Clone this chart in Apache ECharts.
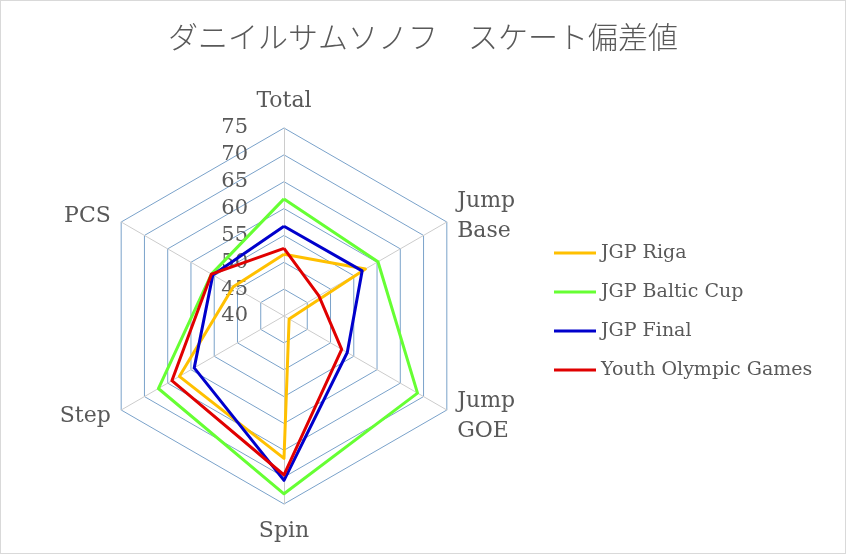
<!DOCTYPE html>
<html>
<head>
<meta charset="UTF-8">
<title>スケート偏差値</title>
<script type="text/javascript" src="https://cdn.jsdelivr.net/npm/echarts@6/dist/echarts.min.js"></script>
<style>
  html, body { margin: 0; padding: 0; background: #fff; }
  #main { width: 846px; height: 554px; box-sizing: border-box; border: 1px solid #d9d9d9; }
</style>
</head>
<body>
    <div id="main"></div>
    <script type="text/javascript">
        // ECharts のレーダーは反時計回りに並ぶので、Total → PCS → Step → Spin → Jump GOE → Jump Base の順
        var categories = ['Total', 'PCS', 'Step', 'Spin', 'Jump\nGOE', 'Jump\nBase'];
        var seriesNames = ['JGP Riga', 'JGP Baltic Cup', 'JGP Final', 'Youth Olympic Games'];
        var riga   = [51.5, 50.9, 62.5, 66.5, 41.1, 57.5];
        var baltic = [61.8, 55.6, 67.0, 73.1, 68.7, 60.2];
        var final  = [56.7, 55.3, 59.3, 70.6, 53.6, 56.8];
        var youth  = [52.6, 55.6, 64.1, 69.6, 52.4, 47.5];
        var axisMin = 40, axisMax = 75, axisStep = 5;
        var colors = ['#ffc000', '#66ff33', '#0000cc', '#e00000'];

        var serif = '"DejaVu Serif", "Liberation Serif", serif';
        var myChart = echarts.init(document.getElementById('main'));

        var indicators = categories.map(function (c, i) {
            var ind = { name: c, min: axisMin, max: axisMax };
            if (i === 0) ind.axisLabel = { show: true };   // 目盛りは Total 軸だけ
            return ind;
        });

        var allData = [riga, baltic, final, youth];
        var option = {
            title: {
                text: 'ダニイルサムソノフ　スケート偏差値',
                left: 'center',
                top: 16,
                textStyle: {
                    fontFamily: '"Noto Sans CJK JP", sans-serif',
                    fontWeight: 300,
                    fontSize: 30,
                    color: '#595959'
                }
            },
            legend: {
                orient: 'vertical',
                left: 548,
                top: 236,
                icon: 'rect',
                itemWidth: 42,
                itemHeight: 3,
                itemGap: 17,
                data: seriesNames,
                textStyle: { fontFamily: serif, fontSize: 19, color: '#595959', lineHeight: 22 }
            },
            radar: {
                center: [283, 315],
                radius: 188,
                startAngle: 90,
                splitNumber: (axisMax - axisMin) / axisStep,
                shape: 'polygon',
                indicator: indicators,
                axisName: { fontFamily: serif, fontSize: 22, color: '#595959', lineHeight: 30 },
                nameGap: 12,
                axisLabel: { show: false, fontFamily: serif, fontSize: 21, color: '#595959', margin: 36 },
                axisLine: { lineStyle: { color: '#cccccc', width: 1 } },
                splitLine: { lineStyle: { color: '#7aa2ca', width: 1 } },
                splitArea: { show: false },
                axisTick: { show: false }
            },
            series: [{
                type: 'radar',
                symbol: 'none',
                data: allData.map(function (d, i) {
                    return {
                        name: seriesNames[i],
                        value: d,
                        lineStyle: { color: colors[i], width: 3 },
                        itemStyle: { color: colors[i] }
                    };
                })
            }]
        };

        myChart.setOption(option);
    </script>
</body>
</html>
